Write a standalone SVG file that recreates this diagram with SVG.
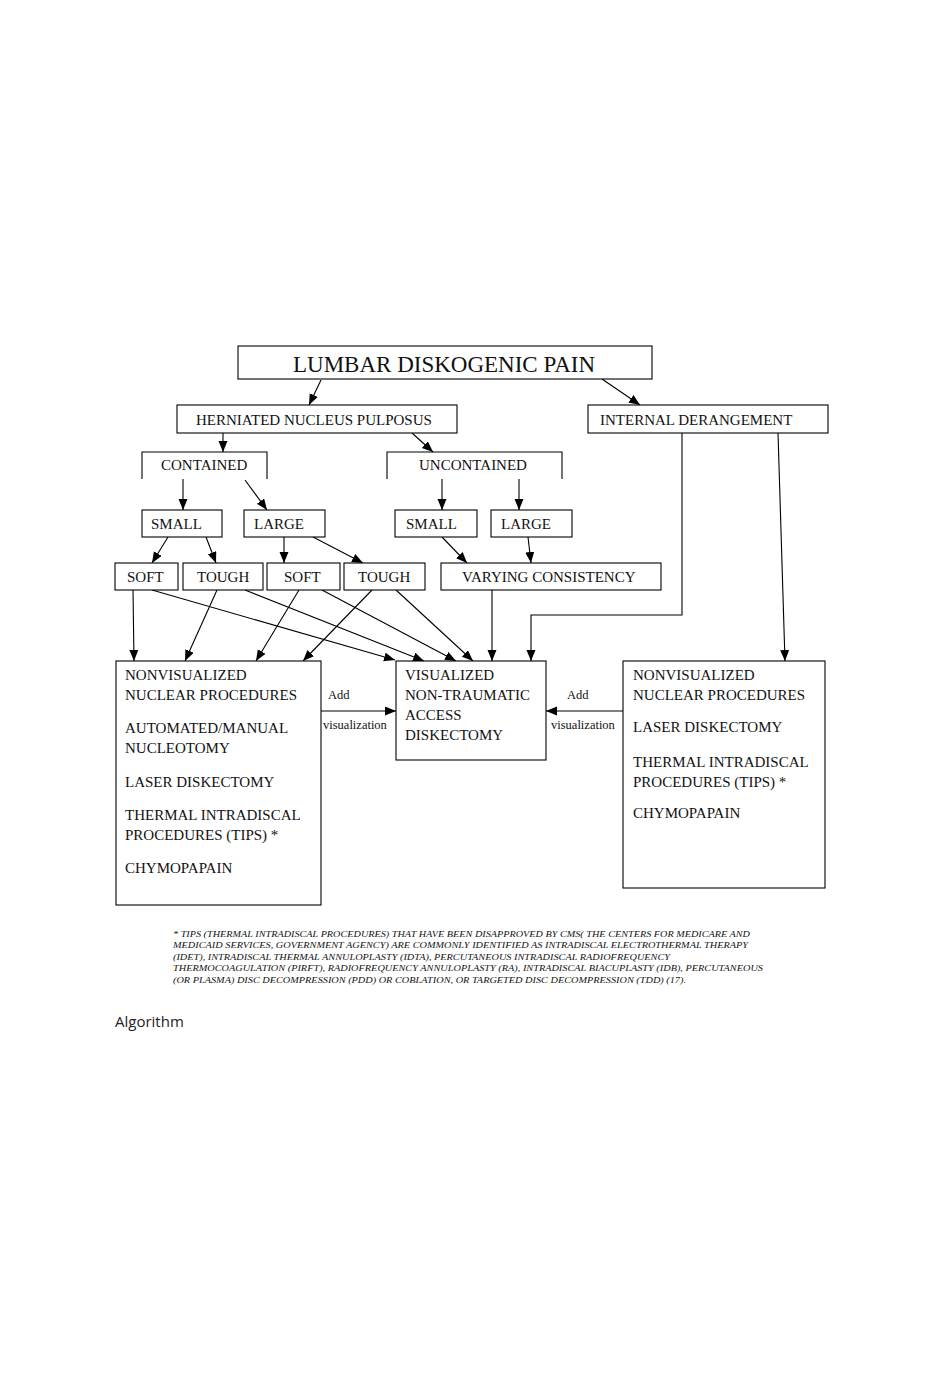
<svg xmlns="http://www.w3.org/2000/svg" width="948" height="1380" viewBox="0 0 948 1380">
<defs>
<marker id="ah" markerUnits="userSpaceOnUse" markerWidth="12" markerHeight="10" refX="11" refY="4.5" orient="auto">
<path d="M0,0 L11,4.5 L0,9 z" fill="#000"/>
</marker>
</defs>
<style>
.box{fill:#fff;stroke:#000;stroke-width:1.1}
.open{fill:none;stroke:#000;stroke-width:1.1}
.t{font-family:"Liberation Serif","Times New Roman",serif;font-size:15px;fill:#111}
.title{font-family:"Liberation Serif","Times New Roman",serif;font-size:23px;fill:#111}
.lbl{font-family:"Liberation Serif","Times New Roman",serif;font-size:12.5px;fill:#111}
.fn{font-family:"Liberation Serif","Times New Roman",serif;font-size:9px;font-style:italic;fill:#111}
.c{fill:none;stroke:#000;stroke-width:1.1;marker-end:url(#ah)}
.cn{fill:none;stroke:#000;stroke-width:1.1}
</style>
<rect width="948" height="1380" fill="#fff"/>

<g id="connectors">
<line class="c" x1="321" y1="380" x2="309" y2="405"/>
<line class="c" x1="602" y1="379" x2="640" y2="405"/>
<line class="c" x1="223" y1="433" x2="223" y2="452"/>
<line class="c" x1="412" y1="433" x2="433" y2="452"/>
<line class="c" x1="183" y1="479" x2="183" y2="510"/>
<line class="c" x1="245" y1="480" x2="267" y2="510"/>
<line class="c" x1="442" y1="479" x2="442" y2="510"/>
<line class="c" x1="519" y1="479" x2="519" y2="510"/>
<line class="c" x1="168" y1="537" x2="152" y2="563"/>
<line class="c" x1="206" y1="537" x2="216" y2="563"/>
<line class="c" x1="284" y1="537" x2="284" y2="563"/>
<line class="c" x1="313" y1="537" x2="363" y2="563"/>
<line class="c" x1="442" y1="537" x2="467" y2="563"/>
<line class="c" x1="528" y1="537" x2="531" y2="563"/>
<line class="c" x1="133" y1="590" x2="134" y2="661"/>
<line class="c" x1="217" y1="590" x2="185" y2="661"/>
<line class="c" x1="299" y1="590" x2="256" y2="661"/>
<line class="c" x1="372" y1="590" x2="303" y2="661"/>
<line class="c" x1="152" y1="590" x2="395" y2="660"/>
<line class="c" x1="245" y1="590" x2="424" y2="661"/>
<line class="c" x1="322" y1="590" x2="456" y2="661"/>
<line class="c" x1="396" y1="590" x2="473" y2="661"/>
<line class="c" x1="492" y1="590" x2="492" y2="661"/>
<polyline class="c" points="682,433 682,615 531,615 531,661"/>
<line class="c" x1="778" y1="433" x2="785" y2="661"/>
<line class="c" x1="321" y1="711" x2="396" y2="711"/>
<line class="c" x1="623" y1="711" x2="546" y2="711"/>
<text class="lbl" x="328" y="699">Add</text>
<text class="lbl" x="323" y="729">visualization</text>
<text class="lbl" x="567" y="699">Add</text>
<text class="lbl" x="551" y="729">visualization</text>
</g>

<g id="lumbar">
<rect class="box" x="238" y="346" width="414" height="33"/>
<text class="title" x="293" y="372">LUMBAR DISKOGENIC PAIN</text>
</g>
<g id="hnp">
<rect class="box" x="177" y="405" width="280" height="28"/>
<text class="t" x="196" y="425">HERNIATED NUCLEUS PULPOSUS</text>
</g>
<g id="internal">
<rect class="box" x="588" y="405" width="240" height="28"/>
<text class="t" x="600" y="425">INTERNAL DERANGEMENT</text>
</g>
<g id="contained">
<path class="open" d="M142,479 L142,452 L267,452 L267,479"/>
<text class="t" x="161" y="470">CONTAINED</text>
</g>
<g id="uncontained">
<path class="open" d="M387,479 L387,452 L562,452 L562,479"/>
<text class="t" x="419" y="470">UNCONTAINED</text>
</g>
<g id="small1">
<rect class="box" x="142" y="510" width="80" height="27"/>
<text class="t" x="151" y="529">SMALL</text>
</g>
<g id="large1">
<rect class="box" x="244" y="510" width="81" height="27"/>
<text class="t" x="254" y="529">LARGE</text>
</g>
<g id="small2">
<rect class="box" x="395" y="510" width="82" height="27"/>
<text class="t" x="406" y="529">SMALL</text>
</g>
<g id="large2">
<rect class="box" x="491" y="510" width="81" height="27"/>
<text class="t" x="501" y="529">LARGE</text>
</g>
<g id="soft1">
<rect class="box" x="115" y="563" width="63" height="27"/>
<text class="t" x="127" y="582">SOFT</text>
</g>
<g id="tough1">
<rect class="box" x="183" y="563" width="80" height="27"/>
<text class="t" x="197" y="582">TOUGH</text>
</g>
<g id="soft2">
<rect class="box" x="267" y="563" width="73" height="27"/>
<text class="t" x="284" y="582">SOFT</text>
</g>
<g id="tough2">
<rect class="box" x="344" y="563" width="81" height="27"/>
<text class="t" x="358" y="582">TOUGH</text>
</g>
<g id="varying">
<rect class="box" x="441" y="563" width="220" height="27"/>
<text class="t" x="462" y="582">VARYING CONSISTENCY</text>
</g>
<g id="nonvis-left">
<rect class="box" x="116" y="661" width="205" height="244"/>
<text class="t" x="125" y="680">NONVISUALIZED</text>
<text class="t" x="125" y="700">NUCLEAR PROCEDURES</text>
<text class="t" x="125" y="733">AUTOMATED/MANUAL</text>
<text class="t" x="125" y="753">NUCLEOTOMY</text>
<text class="t" x="125" y="787">LASER DISKECTOMY</text>
<text class="t" x="125" y="820">THERMAL INTRADISCAL</text>
<text class="t" x="125" y="840">PROCEDURES (TIPS) *</text>
<text class="t" x="125" y="873">CHYMOPAPAIN</text>
</g>
<g id="visualized">
<rect class="box" x="396" y="661" width="150" height="99"/>
<text class="t" x="405" y="680">VISUALIZED</text>
<text class="t" x="405" y="700">NON-TRAUMATIC</text>
<text class="t" x="405" y="720">ACCESS</text>
<text class="t" x="405" y="740">DISKECTOMY</text>
</g>
<g id="nonvis-right">
<rect class="box" x="623" y="661" width="202" height="227"/>
<text class="t" x="633" y="680">NONVISUALIZED</text>
<text class="t" x="633" y="700">NUCLEAR PROCEDURES</text>
<text class="t" x="633" y="732">LASER DISKECTOMY</text>
<text class="t" x="633" y="767">THERMAL INTRADISCAL</text>
<text class="t" x="633" y="787">PROCEDURES (TIPS) *</text>
<text class="t" x="633" y="818">CHYMOPAPAIN</text>
</g>

<g id="footnote">
<text class="fn" x="173" y="937" textLength="577" lengthAdjust="spacingAndGlyphs">* TIPS (THERMAL INTRADISCAL PROCEDURES) THAT HAVE BEEN DISAPPROVED BY CMS( THE CENTERS FOR MEDICARE AND</text>
<text class="fn" x="173" y="948" textLength="575" lengthAdjust="spacingAndGlyphs">MEDICAID SERVICES, GOVERNMENT AGENCY) ARE COMMONLY IDENTIFIED AS INTRADISCAL ELECTROTHERMAL THERAPY</text>
<text class="fn" x="173" y="960" textLength="497" lengthAdjust="spacingAndGlyphs">(IDET), INTRADISCAL THERMAL ANNULOPLASTY (IDTA), PERCUTANEOUS INTRADISCAL RADIOFREQUENCY</text>
<text class="fn" x="173" y="971" textLength="590" lengthAdjust="spacingAndGlyphs">THERMOCOAGULATION (PIRFT), RADIOFREQUENCY ANNULOPLASTY (RA), INTRADISCAL BIACUPLASTY (IDB), PERCUTANEOUS</text>
<text class="fn" x="173" y="983" textLength="513" lengthAdjust="spacingAndGlyphs">(OR PLASMA) DISC DECOMPRESSION (PDD) OR COBLATION, OR TARGETED DISC DECOMPRESSION (TDD)  (17).</text>
</g>

<text x="115" y="1027" font-family="'Open Sans','Noto Sans',sans-serif" font-size="15" fill="#222">Algorithm</text>
</svg>
